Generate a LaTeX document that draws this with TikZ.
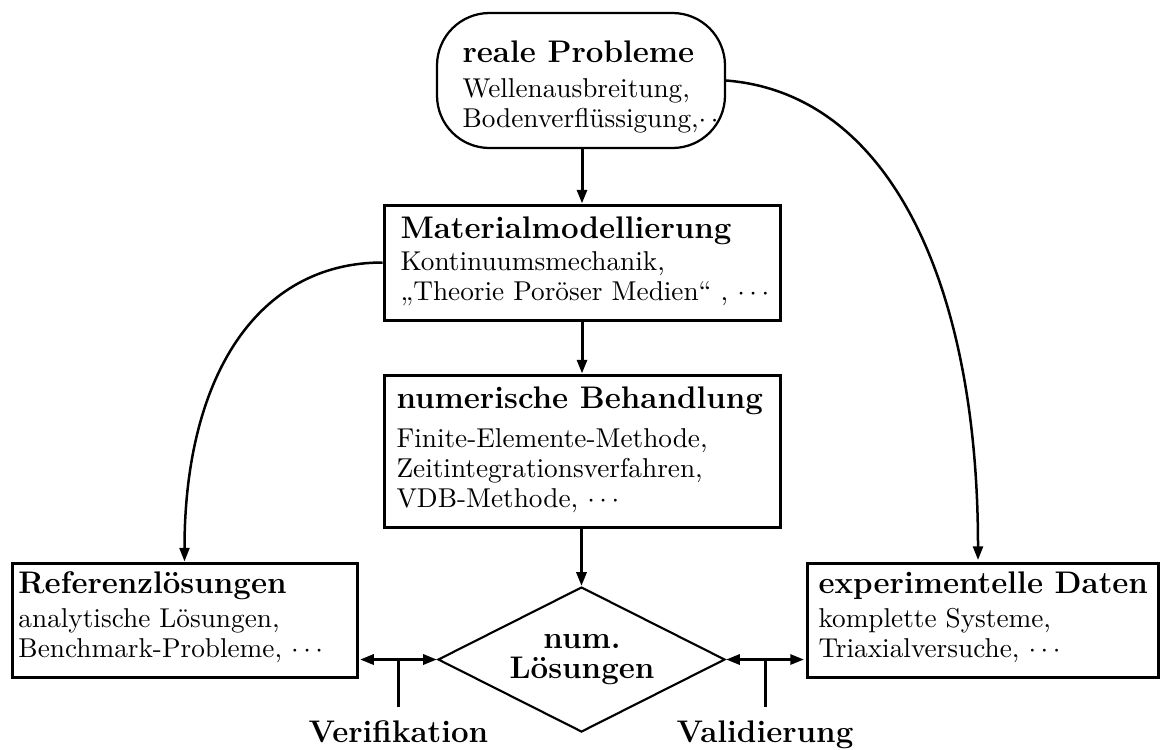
\documentclass[tikz,border=0pt]{standalone}
\usetikzlibrary{shapes.geometric,arrows.meta,calc}
\newcommand\titlefont{\fontsize{12.5pt}{14pt}\selectfont\bfseries}
\newcommand\bodyfont{\fontsize{10.9pt}{12pt}\selectfont}
\newcommand\boxlines[3]{\vtop{\bodyfont\baselineskip=12pt\lineskiplimit=-20pt\hbox{\titlefont #1}\vskip#2\relax #3}}
\newcommand\tline[1]{\hbox{#1}}
\newcommand\cenline[1]{\hbox to 0pt{\hss #1\hss}}
\begin{document}
\begin{tikzpicture}[x=0.4pt,y=-0.4pt,
  box/.style={draw, line width=1.2pt, inner sep=0pt},
  rbox/.style={draw, line width=0.9pt, rounded corners=21pt, inner sep=0pt},
  dia/.style={draw, diamond, line width=0.85pt, inner sep=0pt},
  txt/.style={anchor=base west, inner sep=0pt},
  tip/.tip={Triangle[length=5.5pt,width=4pt]},
  arr/.style={line width=1.2pt, -tip},
  curvearr/.style={line width=1pt, -tip},
  dblarr/.style={line width=1.2pt, tip-tip},
  tickline/.style={line width=1.2pt},
  lbl/.style={anchor=base, inner sep=0pt, font=\titlefont}]

\useasboundingbox (0,0) rectangle (1165,749);

% shapes
\node[rbox, minimum width=288*0.4pt, minimum height=135*0.4pt] (rp) at (581,80.5) {};
\node[box, minimum width=396*0.4pt, minimum height=115*0.4pt] (mm) at (582,262.5) {};
\node[box, minimum width=396*0.4pt, minimum height=152*0.4pt] (nb) at (582,451) {};
\node[box, minimum width=345*0.4pt, minimum height=114*0.4pt] (ref) at (184.5,620) {};
\node[box, minimum width=351*0.4pt, minimum height=114*0.4pt] (exp) at (982.5,620) {};
\node[dia, minimum width=287*0.4pt, minimum height=145*0.4pt] (dm) at (581.5,659.5) {};

% texts
\begin{scope}
\clip[rounded corners=21pt] ($(rp.south west)+(1,-1)$) rectangle ($(rp.north east)+(-1,1)$);
\node[txt] (rpt) at (462,62) {\boxlines{reale Probleme}{2pt}{\tline{Wellenausbreitung,}\tline{Bodenverfl\"ussigung,$\cdots$}}};
\end{scope}
\node[txt] (mmt) at (400,238) {\boxlines{Materialmodellierung}{0.8pt}{\tline{Kontinuumsmechanik,}\tline{„Theorie Por\"oser Medien“ , $\cdots$}}};
\node[txt] (nbt) at (396,408) {\boxlines{numerische Behandlung}{3.6pt}{\tline{Finite-Elemente-Methode,}\tline{Zeitintegrationsverfahren,}\tline{VDB-Methode, $\cdots$}}};
\node[txt] (reft) at (18,593) {\boxlines{Referenzl\"osungen}{1.6pt}{\tline{analytische L\"osungen,}\tline{Benchmark-Probleme, $\cdots$}}};
\node[txt] (expt) at (818,593) {\boxlines{experimentelle Daten}{1.6pt}{\tline{komplette Systeme,}\tline{Triaxialversuche, $\cdots$}}};
\node[anchor=base, inner sep=0pt] (dmt) at (582,648) {\vtop{\titlefont\baselineskip=12pt\lineskiplimit=-20pt\cenline{num.}\cenline{L\"osungen}}};

% connectors
\draw[arr] (mm.north |- rp.south) -- (mm.north);
\draw[arr] (mm.south) -- (nb.north);
\draw[arr] (nb.south -| dm.north) -- (dm.north);
\draw[curvearr] (mm.west) .. controls +(-125,0) and +(0,-185) .. (ref.north);
\coordinate (expin) at ($(exp.north)+(-4.5,-1.5)$);
\draw[curvearr] (rp.east) .. controls +(165,13) and +(0,-273) .. (expin);

\coordinate (lA) at ($(dm.west -| ref.east)+(1.5,0)$);
\draw[dblarr] (lA) -- (dm.west);
\coordinate (lM) at ($(lA)!0.5!(dm.west)$);
\draw[tickline] (lM) -- ++(0,47) coordinate (lT);
\node[lbl] (ver) at ($(lM)+(0,83)$) {Verifikation};

\coordinate (rA) at ($(dm.east -| exp.west)+(-1.5,0)$);
\draw[dblarr] (dm.east) -- (rA);
\coordinate (rM) at ($(dm.east)!0.5!(rA)$);
\draw[tickline] (rM) -- ++(0,47) coordinate (rT);
\node[lbl] (val) at ($(rM)+(0,83)$) {Validierung};
\end{tikzpicture}
\end{document}
